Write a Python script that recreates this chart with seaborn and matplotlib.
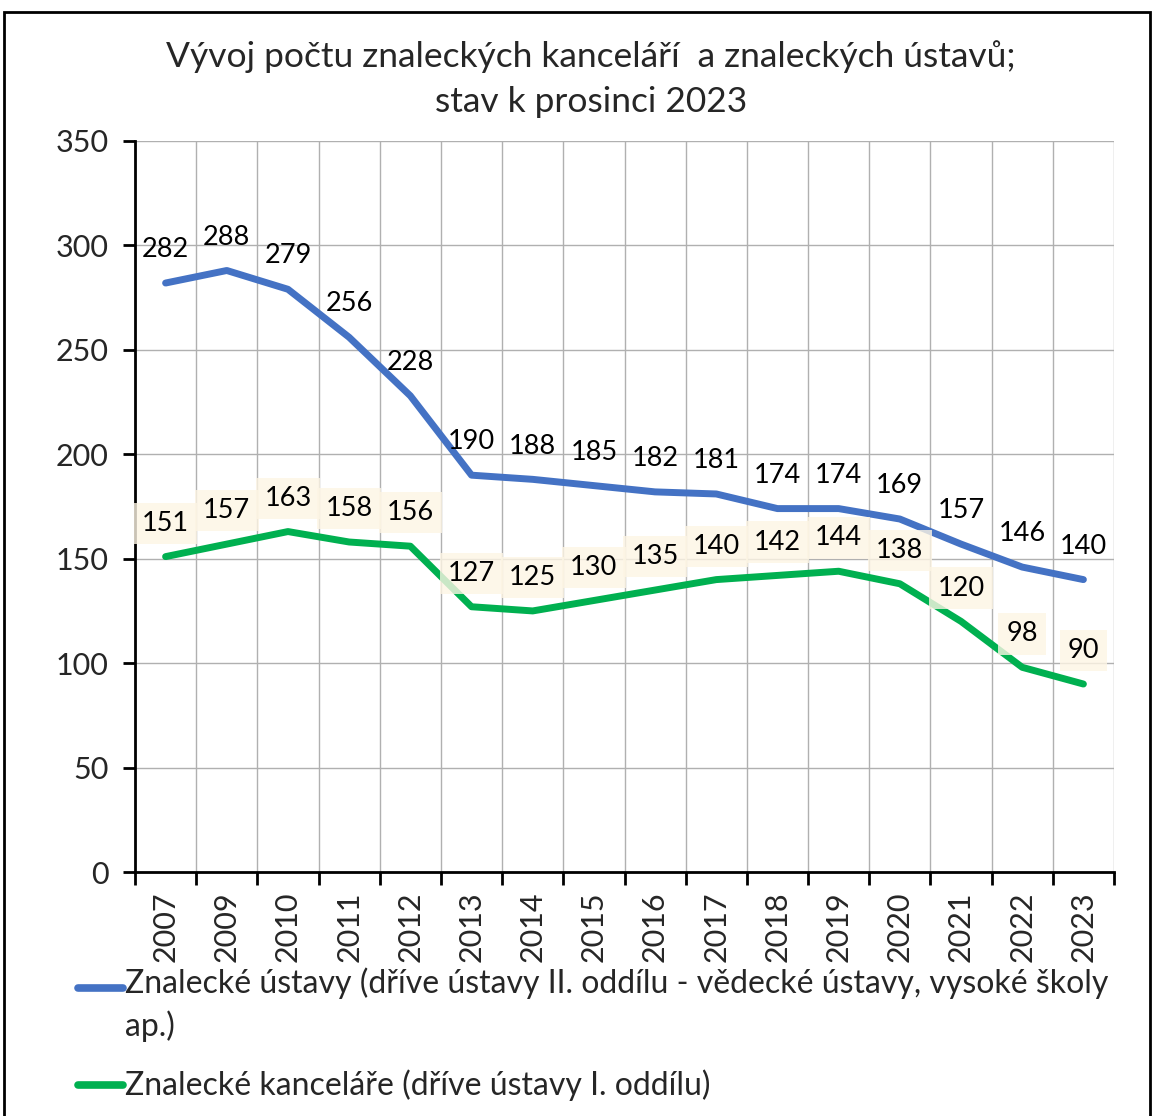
import matplotlib
matplotlib.use("Agg")
import matplotlib.pyplot as plt
import seaborn as sns
import pandas as pd
from matplotlib.lines import Line2D
from matplotlib.patches import Rectangle

# data
years = ["2007", "2009", "2010", "2011", "2012", "2013", "2014", "2015",
         "2016", "2017", "2018", "2019", "2020", "2021", "2022", "2023"]
ustavy = [282, 288, 279, 256, 228, 190, 188, 185, 182, 181, 174, 174, 169, 157, 146, 140]
kancelare = [151, 157, 163, 158, 156, 127, 125, 130, 135, 140, 142, 144, 138, 120, 98, 90]

title = "Vývoj počtu znaleckých kanceláří  a znaleckých ústavů;\nstav k prosinci 2023"
label_ustavy = "Znalecké ústavy (dříve ústavy II. oddílu - vědecké ústavy, vysoké školy\nap.)"
label_kancelare = "Znalecké kanceláře (dříve ústavy I. oddílu)"

blue = "#4472C4"
green = "#00B050"

sns.set_theme(style="white")
plt.rcParams["font.family"] = ["Lato", "DejaVu Sans"]

df = pd.DataFrame({"rok": years, "ustavy": ustavy, "kancelare": kancelare})

fig = plt.figure(figsize=(11.54, 11.16), dpi=100)
ax = fig.add_axes([135 / 1154, 1 - 872 / 1116, 979 / 1154, 731 / 1116])

sns.lineplot(data=df, x="rok", y="ustavy", ax=ax, color=blue, lw=5, sort=False, zorder=3)
sns.lineplot(data=df, x="rok", y="kancelare", ax=ax, color=green, lw=5, sort=False, zorder=3)

ax.set_xlim(-0.5, len(years) - 0.5)
ax.set_ylim(0, 350)
ax.set_yticks(range(0, 351, 50))
ax.set_xticks(range(len(years)))
ax.set_xticklabels(years, rotation=90, fontsize=22)
ax.set_xticks([i - 0.5 for i in range(len(years) + 1)], minor=True)
ax.tick_params(axis="x", which="major", length=0, pad=14)
ax.tick_params(axis="x", which="minor", length=9, width=2, color="black", direction="out", bottom=True)
ax.tick_params(axis="y", length=9, width=2, color="black", direction="out", left=True, labelsize=22, pad=10)
ax.set_xlabel("")
ax.set_ylabel("")

ax.grid(False)
ax.grid(axis="y", which="major", color="#B0B0B0", lw=1)
ax.grid(axis="x", which="minor", color="#B0B0B0", lw=1)
ax.set_axisbelow(True)
for s in ["top", "right"]:
    ax.spines[s].set_visible(False)
for s in ["left", "bottom"]:
    ax.spines[s].set_color("black")
    ax.spines[s].set_linewidth(2)

# data labels
for i, v in enumerate(ustavy):
    ax.annotate(str(v), (i, v), xytext=(0, 24), textcoords="offset points",
                ha="center", va="center", fontsize=19.5, color="black", zorder=5)
for i, v in enumerate(kancelare):
    ax.annotate(str(v), (i, v), xytext=(0, 24), textcoords="offset points",
                ha="center", va="center", fontsize=19.5, color="black", zorder=5,
                bbox=dict(boxstyle="square,pad=0.3", fc="#FDF5E4", ec="none", alpha=0.8))

fig.text(0.512, 1 - 79 / 1116, title, ha="center", va="center", fontsize=25.5,
         linespacing=1.5)

# legend below the plot
fig.add_artist(Line2D([78 / 1154, 123 / 1154], [1 - 988 / 1116] * 2, color=blue, lw=5.5,
                      solid_capstyle="round"))
fig.add_artist(Line2D([78 / 1154, 123 / 1154], [1 - 1085 / 1116] * 2, color=green, lw=5.5,
                      solid_capstyle="round"))
fig.text(125 / 1154, 1 - 967 / 1116, label_ustavy, ha="left", va="top", fontsize=23,
         linespacing=1.45)
fig.text(125 / 1154, 1 - 1085 / 1116, label_kancelare, ha="left", va="center", fontsize=23)

fig.add_artist(Rectangle((4 / 1154, -0.02), 1146 / 1154, 1.02 - 12 / 1116,
                         transform=fig.transFigure, fill=False, ec="black", lw=2))

fig.savefig("out.png", dpi=100)
